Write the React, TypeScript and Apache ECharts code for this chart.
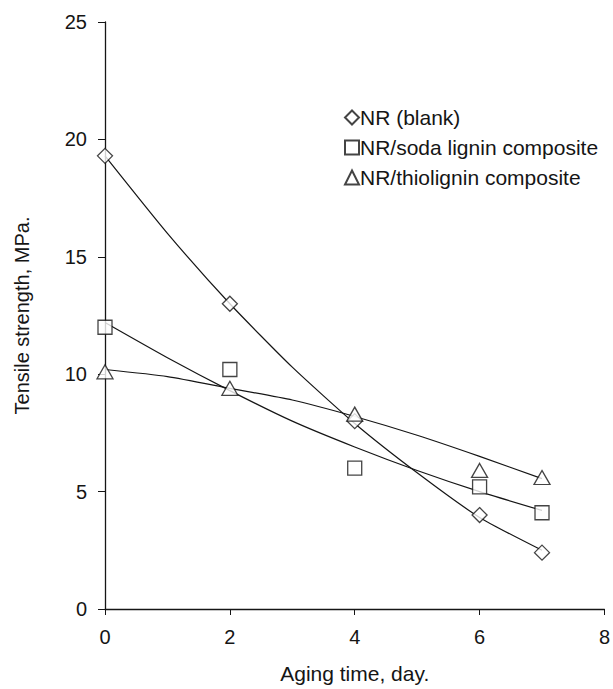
import React, { useEffect, useRef } from "react";
import * as echarts from "echarts";

const days = [0, 2, 4, 6, 7];
const blankValues = [19.3, 13.0, 8.0, 4.0, 2.4];
const sodaValues = [12.0, 10.2, 6.0, 5.2, 4.1];
const thioValues = [10.1, 9.4, 8.3, 5.9, 5.6];

const trendDays = [0, 1, 2, 3, 4, 5, 6, 7];
const blankTrend = [19.3, 16.0, 13.0, 10.3, 7.9, 5.8, 3.9, 2.5];
const sodaTrend = [12.2, 10.7, 9.3, 8.0, 6.9, 5.9, 5.0, 4.2];
const thioTrend = [10.2, 9.9, 9.4, 8.9, 8.2, 7.4, 6.5, 5.55];

const seriesNames = ["NR (blank)", "NR/soda lignin composite", "NR/thiolignin composite"];
const xTicks = [0, 2, 4, 6, 8];
const yTicks = [0, 5, 10, 15, 20, 25];

const pairs = (xs: number[], ys: number[]) => xs.map((x, i) => [x, ys[i]]);

export default function App() {
  const ref = useRef<HTMLDivElement>(null);
  useEffect(() => {
    document.body.style.margin = "0";
    if (!ref.current) return;
    const chart = echarts.init(ref.current, null, { renderer: "svg" });
    const font = "Liberation Sans, Arial, sans-serif";
    const ink = "#151515";
    const markerStyle = { color: "#ffffff", borderColor: ink, borderWidth: 1.3 };
    const trendLine = (ys: number[]) => ({
      type: "line",
      data: pairs(trendDays, ys),
      smooth: 0.2,
      showSymbol: false,
      symbol: "none",
      silent: true,
      lineStyle: { color: ink, width: 1.2 },
      z: 1,
    });
    chart.setOption({
      animation: false,
      backgroundColor: "#ffffff",
      grid: { left: 105, right: 7, top: 22, bottom: 79 },
      legend: {
        orient: "vertical",
        left: 339,
        top: 102,
        itemGap: 9,
        itemWidth: 14,
        itemHeight: 14,
        data: seriesNames,
        textStyle: { fontFamily: font, fontSize: 21, color: ink, padding: [0, 0, 0, -4] },
      },
      xAxis: {
        type: "value",
        min: xTicks[0],
        max: xTicks[xTicks.length - 1],
        interval: 2,
        name: "Aging time, day.",
        nameLocation: "middle",
        nameGap: 54,
        nameTextStyle: { fontFamily: font, fontSize: 21, color: ink },
        axisLine: { lineStyle: { color: ink, width: 1.3 } },
        axisTick: { show: true, length: 6, lineStyle: { color: ink } },
        axisLabel: { fontFamily: font, fontSize: 20, color: ink, margin: 18 },
        splitLine: { show: false },
      },
      yAxis: {
        type: "value",
        min: yTicks[0],
        max: yTicks[yTicks.length - 1],
        interval: 5,
        name: "Tensile strength, MPa.",
        nameLocation: "middle",
        nameGap: 73,
        nameTextStyle: { fontFamily: font, fontSize: 20, color: ink },
        axisLine: { show: true, lineStyle: { color: ink, width: 1.3 } },
        axisTick: { show: true, length: 7, lineStyle: { color: ink } },
        axisLabel: { fontFamily: font, fontSize: 20, color: ink, margin: 18 },
        splitLine: { show: false },
      },
      series: [
        trendLine(blankTrend),
        trendLine(sodaTrend),
        trendLine(thioTrend),
        {
          name: seriesNames[0],
          type: "scatter",
          symbol: "diamond",
          symbolSize: [15, 15],
          data: pairs(days, blankValues),
          itemStyle: markerStyle,
          z: 3,
        },
        {
          name: seriesNames[1],
          type: "scatter",
          symbol: "rect",
          symbolSize: 14,
          data: pairs(days, sodaValues),
          itemStyle: markerStyle,
          z: 3,
        },
        {
          name: seriesNames[2],
          type: "scatter",
          symbol: "triangle",
          symbolSize: [16, 14],
          data: pairs(days, thioValues),
          itemStyle: markerStyle,
          z: 3,
        },
      ],
    });
    return () => chart.dispose();
  }, []);
  return <div ref={ref} style={{ width: 613, height: 689 }} />;
}
